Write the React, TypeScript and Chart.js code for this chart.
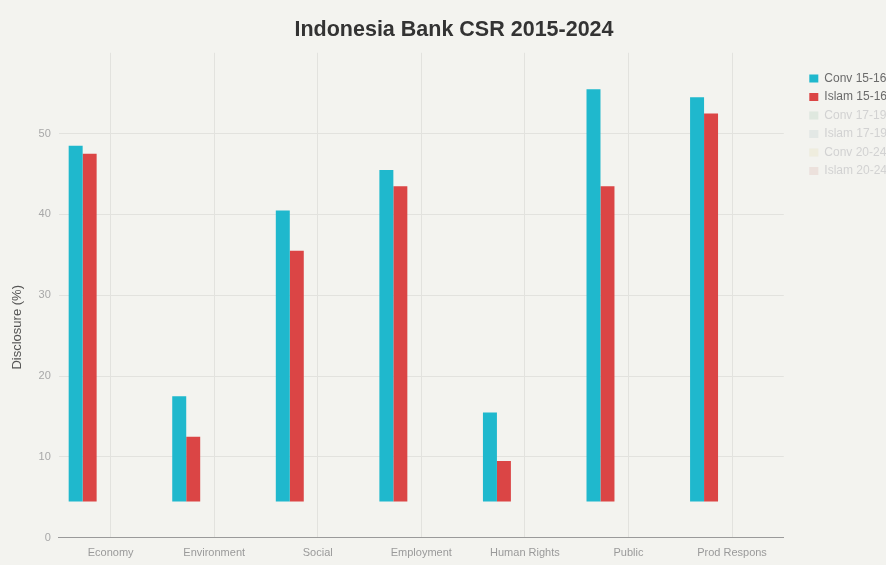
import { useEffect, useRef } from 'react';
import { Chart, registerables } from 'chart.js';

Chart.register(...registerables);

const CATEGORIES = ['Economy', 'Environment', 'Social', 'Employment', 'Human Rights', 'Public', 'Prod Respons'];
const SERIES_LABELS = ['Conv 15-16', 'Islam 15-16', 'Conv 17-19', 'Islam 17-19', 'Conv 20-24', 'Islam 20-24'];
const CONV_1516 = [48.5, 17.5, 40.5, 45.5, 15.5, 55.5, 54.5];
const ISLAM_1516 = [47.5, 12.5, 35.5, 43.5, 9.5, 43.5, 52.5];
const CONV_1719: (number | null)[] = [];
const ISLAM_1719: (number | null)[] = [];
const CONV_2024: (number | null)[] = [];
const ISLAM_2024: (number | null)[] = [];
const BAR_BASE = 4.5;
const Y_TICKS = [0, 10, 20, 30, 40, 50];
const Y_MAX = 60;
const COLORS = ['#1FB8CD', '#DB4545', '#2E8B57', '#5D878F', '#D2BA4C', '#B4413C'];
const FADED = ['#1FB8CD', '#DB4545', 'rgba(46,139,87,0.10)', 'rgba(93,135,143,0.10)', 'rgba(210,186,76,0.10)', 'rgba(180,65,60,0.10)'];

const BG = '#f3f3ef';
const FONT = "'Liberation Sans', Arial, sans-serif";
const TITLE_SHIFT = 7;
const Y_TITLE_SHIFT = 32;

const bgPlugin = {
  id: 'bgFill',
  beforeDraw(chart: any) {
    const { ctx, width, height } = chart;
    ctx.save();
    ctx.fillStyle = BG;
    ctx.fillRect(0, 0, width, height);
    ctx.restore();
  },
};

const shiftPlugin = {
  id: 'shiftTitles',
  afterLayout(chart: any) {
    const t = chart.titleBlock;
    if (t) t.left += TITLE_SHIFT;
    const s = chart.scales.y;
    if (s && !s.__wrapped) {
      const orig = s.drawTitle.bind(s);
      s.drawTitle = (...args: any[]) => {
        const ctx = s.ctx;
        ctx.save();
        ctx.translate(0, Y_TITLE_SHIFT);
        orig(...args);
        ctx.restore();
      };
      s.__wrapped = true;
    }
  },
};

export default function App() {
  const ref = useRef<HTMLCanvasElement | null>(null);

  useEffect(() => {
    document.body.style.margin = '0';
    document.body.style.overflow = 'hidden';
    const seriesData = [CONV_1516, ISLAM_1516, CONV_1719, ISLAM_1719, CONV_2024, ISLAM_2024];
    const datasets = seriesData.map((arr, i) => ({
      label: SERIES_LABELS[i],
      data: CATEGORIES.map((_, j) => (arr[j] == null ? null : [BAR_BASE, arr[j] as number])),
      backgroundColor: COLORS[i],
      borderWidth: 0,
      categoryPercentage: 0.81,
      barPercentage: 1.0,
    }));

    const chart = new Chart(ref.current as HTMLCanvasElement, {
      type: 'bar',
      data: { labels: CATEGORIES, datasets: datasets as any },
      plugins: [bgPlugin, shiftPlugin],
      options: {
        responsive: false,
        animation: false,
        layout: { padding: { left: 4, right: -11, top: 0, bottom: -4 } },
        plugins: {
          title: {
            display: true,
            text: 'Indonesia Bank CSR 2015-2024',
            color: '#333333',
            font: { family: FONT, size: 21.5, weight: 'bold' },
            padding: { top: 17, bottom: 10 },
          },
          legend: {
            position: 'right',
            align: 'start',
            fullSize: false,
            title: { display: true, text: '', font: { size: 1 }, padding: { top: 12, bottom: 0 } },
            labels: {
              boxWidth: 9,
              boxHeight: 8,
              padding: 6.5,
              font: { family: FONT, size: 12 },
              generateLabels: (c: any) => {
                const items = (Chart.defaults.plugins.legend.labels as any).generateLabels(c);
                return items.map((it: any, i: number) => ({
                  ...it,
                  hidden: false,
                  lineWidth: 0,
                  fillStyle: FADED[i],
                  strokeStyle: FADED[i],
                  fontColor: i < 2 ? '#6b6b6b' : '#d2d2d2',
                }));
              },
            },
          },
          tooltip: { enabled: false },
        },
        scales: {
          x: {
            grid: { display: true, offset: false, color: '#e2e2de', drawTicks: false },
            border: { display: true, color: '#9a9a9a', width: 1 },
            ticks: { color: '#9a9a9a', font: { family: FONT, size: 11 }, padding: 9, maxRotation: 0 },
          },
          y: {
            min: 0,
            max: Y_MAX,
            afterBuildTicks: (s: any) => {
              s.ticks = Y_TICKS.map((v) => ({ value: v }));
            },
            grid: { color: '#e2e2de', drawTicks: false },
            border: { display: false },
            ticks: { color: '#a8a8a8', font: { family: FONT, size: 11 }, padding: 8 },
            title: {
              display: true,
              text: 'Disclosure (%)',
              color: '#555555',
              font: { family: FONT, size: 13 },
              padding: { top: 6, bottom: 5 },
            },
          },
          gap: {
            type: 'linear',
            position: 'right',
            display: true,
            grid: { display: false, drawTicks: false },
            border: { display: false },
            ticks: { display: false },
            afterFit: (s: any) => {
              s.width = 19;
            },
          },
        },
      } as any,
    });
    return () => chart.destroy();
  }, []);

  return (
    <div style={{ width: 886, height: 565, overflow: 'hidden', background: BG }}>
      <canvas ref={ref} width={886} height={565} style={{ width: 886, height: 565, display: 'block' }} />
    </div>
  );
}
